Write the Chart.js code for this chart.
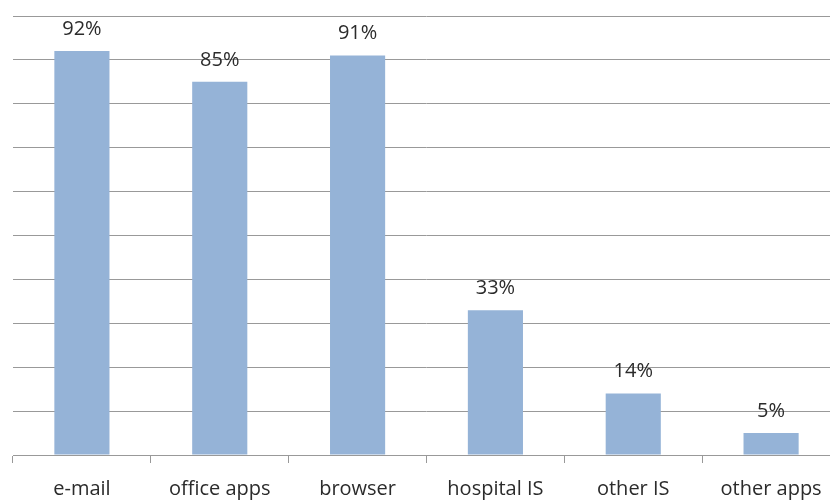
<!DOCTYPE html>
<html>
<head>
<meta charset="utf-8">
<script src="https://cdn.jsdelivr.net/npm/chart.js@4.4.0/dist/chart.umd.min.js"></script>
<style>
  html, body { margin: 0; padding: 0; background: #fff; overflow: hidden; }
  #wrap { width: 840px; height: 515px; }
</style>
</head>
<body>
<div id="wrap"><canvas id="usageChart"></canvas></div>
<script>
// Share of staff using each kind of software (%)
const categories = ['e-mail', 'office apps', 'browser', 'hospital IS', 'other IS', 'other apps'];
const usage = [92, 85, 91, 33, 14, 5];
const valueLabels = ['92%', '85%', '91%', '33%', '14%', '5%'];

const labelFont = '"Open Sans", "DejaVu Sans", sans-serif';

// writes the percentage above each bar
const barValues = {
  id: 'barValues',
  afterDatasetsDraw(chart) {
    const ctx = chart.ctx;
    const meta = chart.getDatasetMeta(0);
    ctx.save();
    ctx.font = '20px ' + labelFont;
    ctx.fillStyle = '#2b2b2b';
    ctx.textAlign = 'center';
    ctx.textBaseline = 'bottom';
    meta.data.forEach(function(bar, i) {
      ctx.fillText(valueLabels[i], bar.x, bar.y - 12);
    });
    ctx.restore();
  }
};

const ctx = document.getElementById('usageChart').getContext('2d');
const usageChart = new Chart(ctx, {
  type: 'bar',
  data: {
    labels: categories,
    datasets: [{
      data: usage,
      backgroundColor: '#95b3d7',
      barPercentage: 0.4,
      categoryPercentage: 1.0
    }]
  },
  options: {
    responsive: true,
    maintainAspectRatio: false,
    animation: false,
    layout: { padding: { left: 13, top: 16, right: 0, bottom: 0 } },
    plugins: {
      legend: { display: false },
      tooltip: { enabled: false }
    },
    scales: {
      x: {
        grid: {
          offset: true,
          drawOnChartArea: false,
          drawTicks: true,
          tickLength: 8,
          color: '#999999'
        },
        border: { display: true, color: '#999999', width: 1 },
        ticks: {
          color: '#2b2b2b',
          font: { size: 20, family: labelFont },
          padding: 14
        }
      },
      y: {
        min: 0,
        max: 100,
        ticks: { display: false, stepSize: 10 },
        grid: { color: '#999999', drawTicks: false },
        border: { display: false }
      }
    }
  },
  plugins: [barValues]
});
</script>
</body>
</html>
